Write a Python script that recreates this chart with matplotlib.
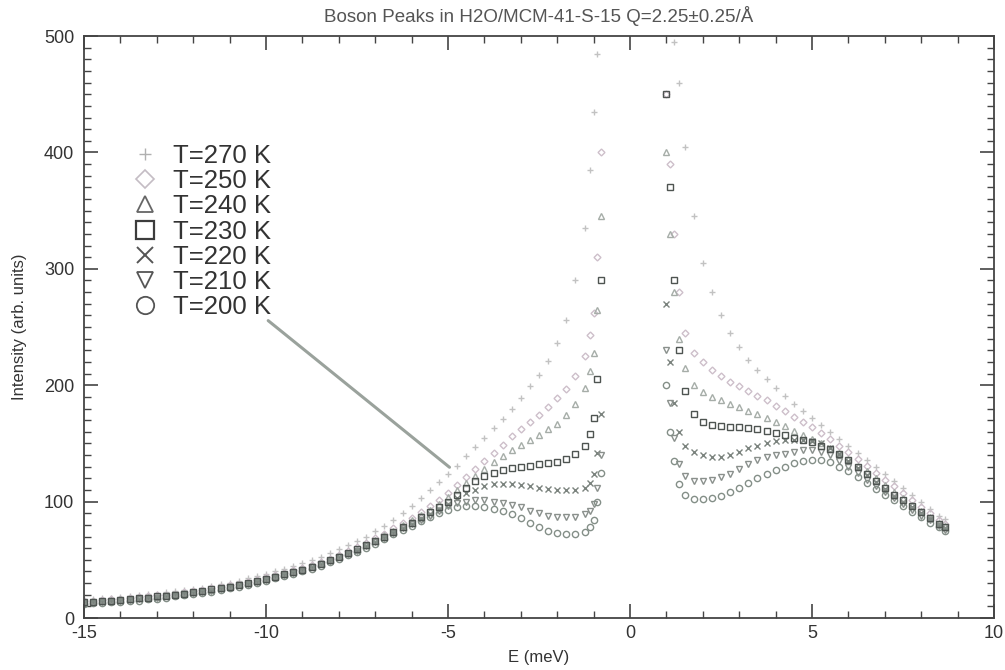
import numpy as np
import matplotlib
matplotlib.use("Agg")
import matplotlib.pyplot as plt
from matplotlib.lines import Line2D
from matplotlib.ticker import MultipleLocator

plt.rcParams['font.family'] = ['Liberation Sans', 'DejaVu Sans']
plt.rcParams['axes.unicode_minus'] = False

# ---------------- data ----------------
E_left = [round(-15 + 0.25 * i, 2) for i in range(56)] + [-1.1, -1.0, -0.9, -0.8]
E_right = [1.0, 1.1, 1.2, 1.35, 1.5] + [round(1.75 + 0.25 * i, 2) for i in range(28)] + [8.65]

temps = ["T=270 K", "T=250 K", "T=240 K", "T=230 K", "T=220 K", "T=210 K", "T=200 K"]

I270_left = [16, 16.5, 17, 17.5, 18, 19, 19.5, 20.5, 21, 22, 23, 24, 25, 26, 27.5, 29, 30.5, 32, 34, 36,
             38, 40, 42, 44.5, 47, 49.5, 52.5, 55.5, 59, 62.5, 66, 70, 74.5, 79, 84, 90, 96, 103, 110, 117,
             124, 131, 139, 147, 155, 163, 171, 180, 189, 199, 209, 221, 236, 256, 290, 335,
             385, 435, 485, 540]
I250_left = [14.5, 15, 15.5, 16, 16.5, 17, 18, 18.5, 19.5, 20, 21, 22, 23, 24, 25.5, 26.5, 28, 29.5, 31, 33,
             35, 37, 39, 41, 43, 45.5, 48, 51, 54, 57.5, 61, 64.5, 68.5, 72.5, 77, 81.5, 86, 91, 96, 101,
             107, 114, 121, 128, 135, 142, 149, 156, 162, 168, 174, 181, 189, 197, 208, 225,
             243, 262, 310, 400]
I240_left = [14, 14.5, 15, 15.5, 16, 16.5, 17.5, 18, 19, 19.5, 20.5, 21.5, 22.5, 23.5, 25, 26, 27.5, 29, 30.5, 32,
             34, 36, 38, 40, 42, 44.5, 47, 50, 53, 56, 59.5, 63, 67, 71, 75, 79.5, 84, 88.5, 93, 98,
             104, 110, 116, 122, 128, 134, 139, 144, 149, 153, 157, 162, 167, 174, 184, 198,
             212, 228, 265, 345]
I230_left = [13.5, 14, 14.5, 15, 15.5, 16, 17, 17.5, 18.5, 19, 20, 21, 22, 23, 24.5, 25.5, 27, 28.5, 30, 31.5,
             33.5, 35.5, 37.5, 39.5, 41.5, 44, 46.5, 49.5, 52.5, 55.5, 59, 62.5, 66, 70, 74, 78, 82, 86.5, 91, 95.5,
             100, 106, 112, 118, 122, 125, 127, 129, 130, 131, 132, 133, 134, 137, 141, 148,
             158, 172, 205, 290]
I220_left = [13, 13.5, 14, 14.5, 15, 15.5, 16, 17, 17.5, 18.5, 19.5, 20.5, 21.5, 22.5, 23.5, 25, 26.5, 28, 29.5, 31,
             33, 35, 37, 39, 41, 43.5, 46, 49, 52, 55, 58, 61.5, 65, 69, 73, 77, 81, 85, 89, 93,
             98, 103, 107, 110, 113, 115, 115, 115, 114, 113, 112, 111, 110, 110, 110, 112,
             116, 124, 142, 175]
I210_left = [12.5, 13, 13.5, 14, 15, 15.5, 16, 16.5, 17.5, 18.5, 19.5, 20.5, 21.5, 22.5, 23.5, 25, 26.5, 28, 29.5, 31,
             33, 35, 37, 39, 41, 43.5, 46, 49, 52, 55, 58, 61.5, 65, 69, 73, 77, 80.5, 84, 88, 92,
             96, 99, 100, 101, 101, 100, 99, 97, 95, 92, 90, 88, 87, 87, 87, 89,
             92, 98, 112, 140]
I200_left = [12, 12.5, 13, 13.5, 14, 14.5, 15, 16, 16.5, 17.5, 18.5, 19.5, 20.5, 21.5, 22.5, 24, 25.5, 27, 28.5, 30,
             32, 34, 36, 38, 40, 42.5, 45, 48, 51, 54, 57, 60.5, 64, 68, 72, 75.5, 79, 83, 86.5, 90,
             93, 95, 96, 96, 95, 94, 92, 89, 86, 82, 78, 75, 73, 72, 72, 74,
             78, 84, 100, 125]

I270_right = [560, 520, 495, 460, 405,
              345, 305, 280, 260, 245, 233, 222, 213, 205, 198, 191, 184, 178, 172, 166, 160, 154, 148, 142,
              136, 130, 124, 118, 112, 106, 100, 94, 88, 85]
I250_right = [450, 390, 330, 280, 245,
              228, 220, 213, 208, 203, 199, 195, 191, 187, 182, 178, 173, 168, 164, 159, 154, 148, 143, 137,
              131, 125, 119, 113, 107, 101, 95, 90, 84, 81]
I240_right = [400, 330, 280, 240, 215,
              200, 194, 190, 187, 184, 181, 178, 175, 172, 168, 165, 161, 157, 154, 150, 146, 142, 137, 131,
              126, 120, 114, 108, 103, 97, 92, 87, 82, 79]
I230_right = [450, 370, 290, 230, 195,
              175, 168, 166, 165, 164, 164, 163, 162, 161, 159, 157, 155, 153, 151, 148, 145, 141, 136, 130,
              124, 118, 112, 106, 101, 96, 91, 86, 81, 78]
I220_right = [270, 220, 185, 160, 148,
              143, 140, 138, 138, 140, 143, 146, 148, 150, 152, 153, 153, 153, 152, 150, 146, 141, 135, 129,
              123, 117, 111, 105, 100, 95, 90, 85, 80, 77]
I210_right = [230, 185, 155, 132, 122,
              118, 118, 119, 121, 124, 128, 132, 136, 138, 140, 141, 143, 144, 144, 143, 140, 135, 130, 125,
              119, 113, 108, 103, 98, 93, 88, 84, 79, 76]
I200_right = [200, 160, 135, 115, 106,
              102, 102, 103, 105, 108, 112, 116, 120, 124, 127, 130, 133, 135, 136, 136, 134, 130, 126, 121,
              116, 111, 106, 101, 96, 91, 87, 82, 78, 75]

x_ticks = [-15, -10, -5, 0, 5, 10]
y_ticks = [0, 100, 200, 300, 400, 500]

# ---------------- style ----------------
series = [
    (I270_left, I270_right, '+', '#c2c2c2', 5),
    (I250_left, I250_right, 'D', '#cdbfca', 3.5),
    (I240_left, I240_right, '^', '#a6ada8', 4.5),
    (I220_left, I220_right, 'x', '#7b837e', 4.5),
    (I210_left, I210_right, 'v', '#8a908c', 4.5),
    (I200_left, I200_right, 'o', '#848f88', 4.5),
    (I230_left, I230_right, 's', '#4e5451', 4.5),
]

fig = plt.figure(figsize=(10.05, 6.7), dpi=100)
ax = fig.add_axes([0.0836, 0.0776, 0.9055, 0.8686])

for left, right, m, c, ms in series:
    for xs, ys in ((E_left, left), (E_right, right)):
        ax.plot(xs, ys, linestyle='none', marker=m, color=c, markersize=ms,
                markerfacecolor='none', markeredgewidth=1.0, clip_on=True)

ax.set_xlim(-15, 10)
ax.set_ylim(0, 500)
ax.set_xticks(x_ticks)
ax.set_yticks(y_ticks)
ax.xaxis.set_minor_locator(MultipleLocator(1))
ax.yaxis.set_minor_locator(MultipleLocator(10))
ax.tick_params(which='both', direction='in', top=True, right=True, colors='#444444',
               labelcolor='#333333', labelsize=13)
ax.tick_params(which='major', length=10, width=1.2)
ax.tick_params(which='minor', length=5, width=1.0)
ax.tick_params(axis='x', which='major', pad=5)
ax.tick_params(axis='y', which='major', pad=7)
for s in ax.spines.values():
    s.set_color('#444444')
    s.set_linewidth(1.3)

ax.set_xlabel('E (meV)', fontsize=12, color='#333333', labelpad=6)
ax.set_ylabel('Intensity (arb. units)', fontsize=12, color='#333333', labelpad=12)
ax.set_title('Boson Peaks in H2O/MCM-41-S-15 Q=2.25±0.25/Å', fontsize=13.5, color='#555555', pad=10)

# legend
handles = [
    Line2D([], [], linestyle='none', marker='+', color='#b0b0b0', markersize=9, markeredgewidth=1.0),
    Line2D([], [], linestyle='none', marker='D', color='#c4bcc4', markersize=9, markerfacecolor='none', markeredgewidth=1.2),
    Line2D([], [], linestyle='none', marker='^', color='#666666', markersize=11, markerfacecolor='none', markeredgewidth=1.3),
    Line2D([], [], linestyle='none', marker='s', color='#3c3c3c', markersize=13, markerfacecolor='none', markeredgewidth=1.6),
    Line2D([], [], linestyle='none', marker='x', color='#555555', markersize=11, markeredgewidth=1.4),
    Line2D([], [], linestyle='none', marker='v', color='#555555', markersize=11, markerfacecolor='none', markeredgewidth=1.3),
    Line2D([], [], linestyle='none', marker='o', color='#555555', markersize=12.5, markerfacecolor='none', markeredgewidth=1.3),
]
leg = ax.legend(handles, temps, loc='upper left', bbox_to_anchor=(0.0527, 0.815), frameon=False,
                fontsize=18.5, labelspacing=0.05, handletextpad=0.6, handlelength=1.0,
                borderaxespad=0, borderpad=0)
for t in leg.get_texts():
    t.set_color('#333333')

# pointer line from legend to data
arrow_start = (-10.0, 257)
arrow_end = (-4.9, 128)
ax.annotate('', xy=arrow_end, xytext=arrow_start,
            arrowprops=dict(arrowstyle='-', color='#9aa29c', lw=2.2))

fig.savefig('out.png', dpi=100)
